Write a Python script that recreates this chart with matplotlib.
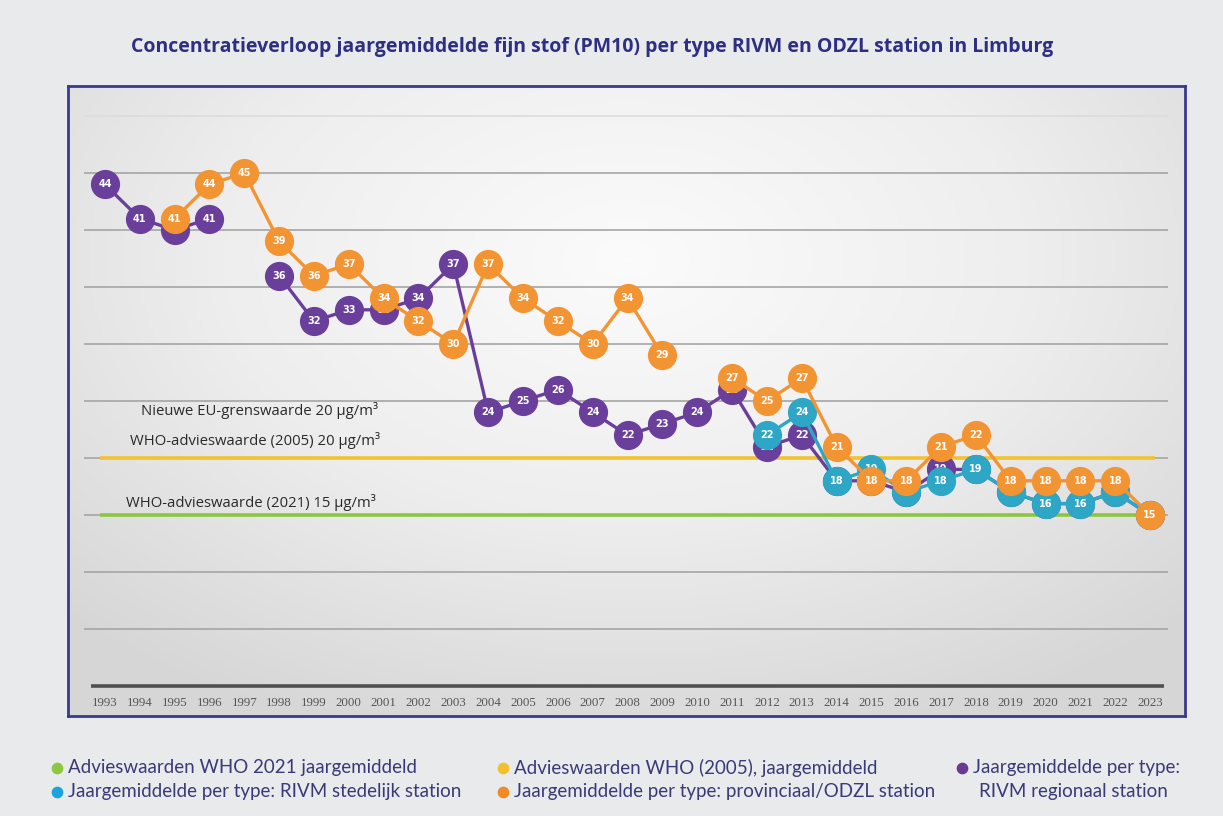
import matplotlib
matplotlib.use("Agg")
import matplotlib.pyplot as plt
from matplotlib.colors import LinearSegmentedColormap
import numpy as np

nan = np.nan

# jaren op de x-as
years = list(range(1993, 2024))

# RIVM regionaal station (paars)
regional = [44, 41, 40, 41, nan, 36, 32, 33, 33, 34, 37, 24, 25, 26, 24, 22,
            23, 24, 26, 21, 22, 18, 18, 17, 19, 19, 17, 16, 16, 17, 15]
# RIVM stedelijk station (blauw), vanaf 2012
urban = [nan] * 19 + [22, 24, 18, 19, 17, 18, 19, 17, 16, 16, 17, 15]
# provinciaal / ODZL station (oranje)
provincial = [nan, nan, 41, 44, 45, 39, 36, 37, 34, 32, 30, 37, 34, 32, 30, 34,
              29, nan, 27, 25, 27, 21, 18, 18, 21, 22, 18, 18, 18, 18, 15]

who_2005 = 20
who_2021 = 15

limit_texts = ["Nieuwe EU-grenswaarde 20 \u00b5g/m\u00b3",
               "WHO-advieswaarde (2005) 20 \u00b5g/m\u00b3",
               "WHO-advieswaarde (2021) 15 \u00b5g/m\u00b3"]

legend_items = [("Advieswaarden WHO 2021 jaargemiddeld", "#8dc63f"),
                ("Advieswaarden WHO (2005), jaargemiddeld", "#f0c12c"),
                ("Jaargemiddelde per type:", "#6b3a8f"),
                ("Jaargemiddelde per type: RIVM stedelijk station", "#1aa3dc"),
                ("Jaargemiddelde per type: provinciaal/ODZL station", "#ef8a25"),
                ("RIVM regionaal station", None)]

title = ("Concentratieverloop jaargemiddelde fijn stof (PM10) per type RIVM "
         "en ODZL station in Limburg")

W, H = 1223, 816
BG = "#e9eaec"
NAVY = "#2e2f80"

fig = plt.figure(figsize=(W / 100, H / 100), dpi=100, facecolor=BG)

# kader van de grafiek in pixels: x 68..1185, y 86..716
px_per_unit = 11.4
y_bottom = -(716 - 686) / px_per_unit
y_top = (686 - 86) / px_per_unit
ax = fig.add_axes([68 / W, 1 - 716 / H, (1185 - 68) / W, (716 - 86) / H])
ax.set_xlim(1991.94, 2024.0)
ax.set_ylim(y_bottom, y_top)

# achtergrond met zachte gradient
gx = np.linspace(-1, 1, 300)
gy = np.linspace(-1, 1, 200)
GX, GY = np.meshgrid(gx, gy)
r = np.sqrt((GX * 0.9) ** 2 + ((GY - 0.45) * 0.8) ** 2)
cmap = LinearSegmentedColormap.from_list("bg", ["#fbfbfb", "#eeeeee", "#d6d6d7"])
ax.imshow(r, cmap=cmap, extent=[1991.94, 2024.0, y_bottom, y_top],
          aspect="auto", origin="lower", zorder=0, vmin=0, vmax=1.3)

for s in ax.spines.values():
    s.set_color("#3a3a8c")
    s.set_linewidth(2)
ax.set_yticks([])
ax.set_xticks(years)
ax.set_xticklabels([str(y) for y in years], fontsize=9.3, color="#555555",
                   family="Liberation Serif")
ax.tick_params(axis="x", length=0, pad=-14)

# rasterlijnen
ax.hlines(np.arange(5, 50, 5), 1992.4, 2023.5, color="#a5a5a5", lw=1.2, zorder=1)
ax.hlines(50, 1992.4, 2023.5, color="#dcdcdc", lw=1.2, zorder=1)
ax.hlines(0, 1992.6, 2023.4, color="#505050", lw=2.6, zorder=1)

# advieswaarden
ax.hlines(who_2005, 1992.85, 2023.15, color="#f2c230", lw=2.6, zorder=2)
ax.hlines(who_2021, 1992.85, 2023.0, color="#8cc63f", lw=2.6, zorder=2)

ax.text(1997.45, 24.2, limit_texts[0], ha="center", va="center", fontsize=10.7,
        color="#2a2a2a", family="Open Sans", zorder=2)
ax.text(1997.3, 21.5, limit_texts[1], ha="center", va="center", fontsize=10.7,
        color="#2a2a2a", family="Open Sans", zorder=2)
ax.text(1997.2, 16.1, limit_texts[2], ha="center", va="center", fontsize=10.7,
        color="#2a2a2a", family="Open Sans", zorder=2)

series = [(regional, "#6a3f9b", 3), (urban, "#2ea7c7", 5), (provincial, "#f39433", 7)]
for vals, col, z in series:
    v = np.array(vals, dtype=float)
    ax.plot(years, v, color=col, lw=2.4, marker="o", markersize=20,
            markeredgecolor=col, zorder=z)
    for x, y in zip(years, v):
        if not np.isnan(y):
            ax.text(x, y, f"{int(y)}", ha="center", va="center", fontsize=7,
                    color="white", weight="bold", zorder=z + 0.5)

# titel
fig.text(592 / W, 1 - 47 / H, title, ha="center", va="center", fontsize=14,
         weight="bold", color=NAVY, family="Open Sans")

# legenda onder de grafiek
leg = fig.add_axes([0, 0, 1, 1], facecolor="none")
leg.set_xlim(0, W)
leg.set_ylim(H, 0)
leg.axis("off")
leg_pos = [(57, 768), (503, 768), (962, 768), (57, 792), (503, 792), (962, 792)]
for (label, col), (lx, ly) in zip(legend_items, leg_pos):
    if col is not None:
        leg.scatter([lx], [ly], s=55, color=col, zorder=3)
    leg.text(lx + 11 if col is not None else lx + 17, ly, label, ha="left",
             va="center", fontsize=13.5, color="#3a3a78", family="Lato")

fig.savefig("out.png", dpi=100, facecolor=BG)
